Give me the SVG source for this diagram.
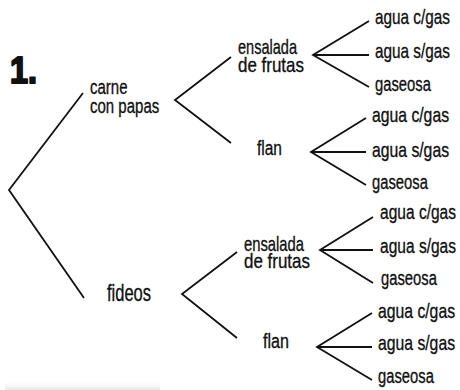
<svg xmlns="http://www.w3.org/2000/svg" width="460" height="390" viewBox="0 0 460 390">
  <defs>
    <linearGradient id="shade" x1="0" y1="0" x2="0" y2="1">
      <stop offset="0" stop-color="#ffffff" stop-opacity="0"/>
      <stop offset="1" stop-color="#e6e6e6" stop-opacity="1"/>
    </linearGradient>
    <style>
      .t { font-family: "Liberation Sans", Arial, sans-serif; font-size: 21px; fill: #111; stroke: #111; stroke-width: 0.35; }
      .num { font-family: "Liberation Sans", Arial, sans-serif; font-size: 36px; font-weight: 900; fill: #111; stroke: #111; stroke-width: 2; stroke-linejoin: round; }
      .c { fill: none; stroke: #111; stroke-width: 1.8; stroke-linecap: butt; stroke-linejoin: miter; }
    </style>
  </defs>
  <rect width="460" height="390" fill="#ffffff"/>
  <rect x="5" y="380" width="155" height="10" fill="url(#shade)"/>

  <text class="num" x="10" y="83" textLength="27" lengthAdjust="spacingAndGlyphs">1.</text>

  <g id="connectors">
    <polyline class="c" points="83,93 9,190 84,298"/>
    <polyline class="c" points="231,57 175,100 231,143"/>
    <polyline class="c" points="237,252 182,294 237,338"/>
    <polyline class="c" points="369,21 313,55 369,87"/>
    <line class="c" x1="313" y1="55" x2="369" y2="55"/>
    <polyline class="c" points="366,118 311,152 366,185"/>
    <line class="c" x1="311" y1="152" x2="366" y2="152"/>
    <polyline class="c" points="373,217 320,250 373,283"/>
    <line class="c" x1="320" y1="250" x2="373" y2="250"/>
    <polyline class="c" points="372,313 317,347 372,380"/>
    <line class="c" x1="317" y1="347" x2="372" y2="347"/>
  </g>

  <g id="carne-con-papas">
    <text class="t" transform="translate(90 94) scale(0.715 1)"><tspan x="0" y="0">carne</tspan><tspan x="0" y="19">con papas</tspan></text>
  </g>
  <g id="fideos">
    <text class="t" transform="translate(107 301) scale(0.717 1)" style="font-size:23px">fideos</text>
  </g>

  <g id="ensalada-1">
    <text class="t" transform="translate(238 54) scale(0.75 1)"><tspan x="0" y="0" textLength="78.7" lengthAdjust="spacingAndGlyphs">ensalada</tspan><tspan x="0" y="18" textLength="88" lengthAdjust="spacingAndGlyphs">de frutas</tspan></text>
  </g>
  <g id="flan-1">
    <text class="t" transform="translate(257 155) scale(0.738 1)">flan</text>
  </g>
  <g id="ensalada-2">
    <text class="t" transform="translate(244 251) scale(0.75 1)"><tspan x="0" y="0" textLength="80" lengthAdjust="spacingAndGlyphs">ensalada</tspan><tspan x="0" y="17" textLength="88" lengthAdjust="spacingAndGlyphs">de frutas</tspan></text>
  </g>
  <g id="flan-2">
    <text class="t" transform="translate(263 348) scale(0.767 1)">flan</text>
  </g>

  <g id="bebidas-1">
    <text class="t" transform="translate(375 24) scale(0.73 1)">agua c/gas</text>
    <text class="t" transform="translate(375 58) scale(0.73 1)">agua s/gas</text>
    <text class="t" transform="translate(375 91) scale(0.705 1)">gaseosa</text>
  </g>
  <g id="bebidas-2">
    <text class="t" transform="translate(372 122) scale(0.75 1)">agua c/gas</text>
    <text class="t" transform="translate(372 157) scale(0.75 1)">agua s/gas</text>
    <text class="t" transform="translate(372 189) scale(0.705 1)">gaseosa</text>
  </g>
  <g id="bebidas-3">
    <text class="t" transform="translate(380 219) scale(0.74 1)">agua c/gas</text>
    <text class="t" transform="translate(380 253) scale(0.74 1)">agua s/gas</text>
    <text class="t" transform="translate(381 285) scale(0.705 1)">gaseosa</text>
  </g>
  <g id="bebidas-4">
    <text class="t" transform="translate(378 318) scale(0.75 1)">agua c/gas</text>
    <text class="t" transform="translate(378 350) scale(0.75 1)">agua s/gas</text>
    <text class="t" transform="translate(378 383) scale(0.705 1)">gaseosa</text>
  </g>
</svg>
